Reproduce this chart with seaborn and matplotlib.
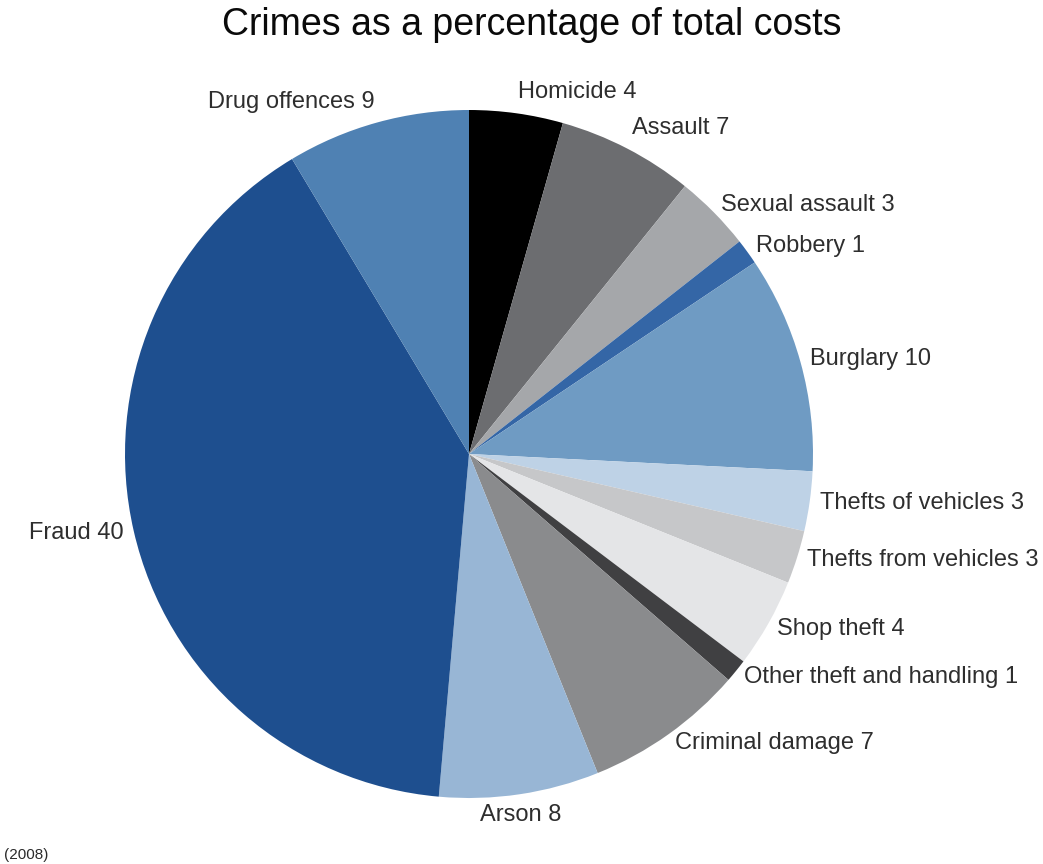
import matplotlib
matplotlib.use("Agg")
import matplotlib.pyplot as plt
import seaborn as sns

categories = ["Homicide", "Assault", "Sexual assault", "Robbery", "Burglary",
              "Thefts of vehicles", "Thefts from vehicles", "Shop theft",
              "Other theft and handling", "Criminal damage", "Arson", "Fraud",
              "Drug offences"]
values = [4.4, 6.4, 3.6, 1.2, 10.2, 2.8, 2.5, 4.2, 1.1, 7.5, 7.5, 40.0, 8.6]
label_values = [4, 7, 3, 1, 10, 3, 3, 4, 1, 7, 8, 40, 9]
colors = ["#000000", "#6c6d70", "#a5a7aa", "#3466a6", "#6f9bc3", "#bed2e6",
          "#c6c7c9", "#e4e5e7", "#404042", "#8a8b8d", "#98b6d5", "#1e4f8f",
          "#4f81b3"]

sns.set_theme(style="white")
plt.rcParams["font.family"] = ["Liberation Sans", "DejaVu Sans"]

W, H = 1043, 864
fig = plt.figure(figsize=(W / 100, H / 100), dpi=100)
cx, cy, r = 469, 454, 344
ax = fig.add_axes([(cx - r) / W, (H - cy - r) / H, 2 * r / W, 2 * r / H])

labels = [f"{c} {v}" for c, v in zip(categories, label_values)]
wedges, texts = ax.pie(values, colors=colors, labels=labels, startangle=90,
                       counterclock=False, labeldistance=1.03,
                       wedgeprops=dict(linewidth=0),
                       textprops=dict(fontsize=17, color="#2e2e2e"))
for t in texts:
    x, y = t.get_position()
    if y > 0.85:
        t.set_va("bottom")
    elif y < -0.9:
        t.set_va("top")
        t.set_ha("center")
ax.set_xlim(-1, 1)
ax.set_ylim(-1, 1)
ax.set_aspect("equal")
ax.axis("off")

fig.text(532 / W, 1 - 25 / H, "Crimes as a percentage of total costs",
         ha="center", va="center", fontsize=27, color="#0a0a0a")
fig.text(4 / W, 1 - 855 / H, "(2008)", ha="left", va="center",
         fontsize=11, color="#2a2a2a")

fig.savefig("out.png", dpi=100)
